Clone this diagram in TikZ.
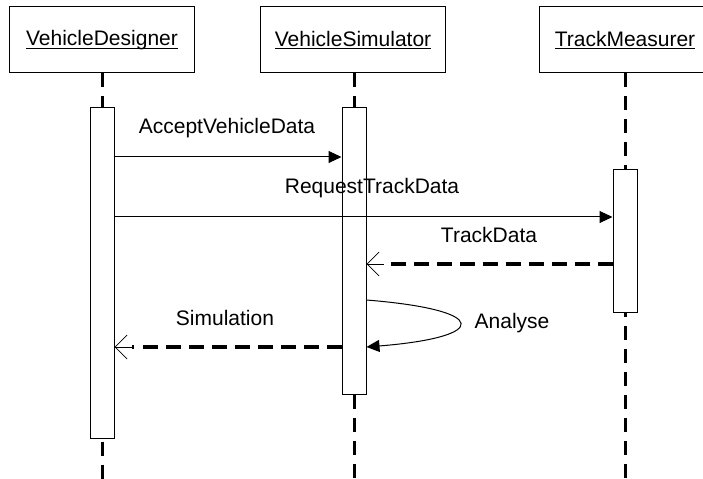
\documentclass[tikz,border=0pt]{standalone}
\usepackage{fontspec}
\setmainfont{Liberation Sans}
\usetikzlibrary{arrows.meta,calc}
% underlined object name, rule placed just under the baseline
\newcommand\objname[1]{\setbox0\hbox{#1}\rlap{\rule[-3bp]{\wd0}{0.9bp}}\box0}

\begin{document}
\begin{tikzpicture}[x=1bp,y=-1bp,
  every node/.style={font=\fontsize{21bp}{25bp}\selectfont},
  object/.style={draw, line width=1bp, minimum width=185bp, minimum height=66bp, inner sep=0},
  activation/.style={draw, fill=white, line width=1bp, minimum width=24bp, anchor=north, inner sep=0},
  lifeline/.style={line width=3bp, dash pattern=on 14bp off 9bp},
  call/.style={line width=1bp, -{Triangle[length=13bp,width=12bp]}},
  reply/.style={line width=3.2bp, dash pattern=on 15bp off 8bp},
  replytip/.style={line width=0.8bp, -{Straight Barb[length=12bp,width=24bp]}},
  msg/.style={inner sep=0}]

\useasboundingbox[fill=white] (0,0) rectangle (703,479);
\clip (0,0) rectangle (703,479);

% objects (the third box runs past the right edge of the page)
\node[object] (vd) at (102,40) {\objname{VehicleDesigner}};
\node[object] (vs) at (353,40) {\objname{VehicleSimulator}};
\node[object, minimum width=200bp] (tm) at (639,40) {};
\node (tmname) at (625,40) {\objname{TrackMeasurer}};

% ends of the lifelines
\coordinate (top1) at (vd.south);
\coordinate (top2) at (354,73);
\coordinate (top3) at (625,73);
\coordinate (end1) at (102,479);
\coordinate (end2) at (354,479);
\coordinate (end3) at (625,479);

\draw[lifeline] (top1) -- (end1);
\draw[lifeline] (top2) -- (end2);
\draw[lifeline] (top3) -- (end3);

% activation bars
\node[activation, minimum height=331bp] (act1) at (102,107) {};
\node[activation, minimum height=287bp] (act2) at (354,107) {};
\node[activation, minimum height=143bp] (act3) at (625,169) {};

% message levels
\coordinate (m1) at (0,157);
\coordinate (m2) at (0,217);
\coordinate (m3) at (0,264);
\coordinate (m4a) at (0,300);
\coordinate (m4b) at (0,347);
\coordinate (m5) at (0,347);

% AcceptVehicleData
\draw[call] (act1.east |- m1) -- (act2.west |- m1);
\node[msg] (l1) at (227,128) {AcceptVehicleData};

% RequestTrackData
\draw[call] (act1.east |- m2) -- (act3.west |- m2);
\node[msg] (l2) at (372,188) {RequestTrackData};

% TrackData (reply)
\coordinate (r3) at ($(act2.east |- m3)+(17,0)$);
\draw[reply] (act3.west |- m3) -- (r3);
\draw[replytip] (r3) -- (act2.east |- m3);
\node[msg] (l3) at (489,235) {TrackData};

% Analyse (self call)
\draw[call] (act2.east |- m4a) .. controls +(124,10) and +(124,-10) .. (act2.east |- m4b);
\node[msg] (l4) at (512,323) {Analyse};

% Simulation (reply)
\coordinate (r5) at ($(act1.east |- m5)+(17,0)$);
\draw[reply] (act2.west |- m5) -- (r5);
\draw[replytip] (r5) -- (act1.east |- m5);
\node[msg] (l5) at (225,318) {Simulation};
\end{tikzpicture}
\end{document}
